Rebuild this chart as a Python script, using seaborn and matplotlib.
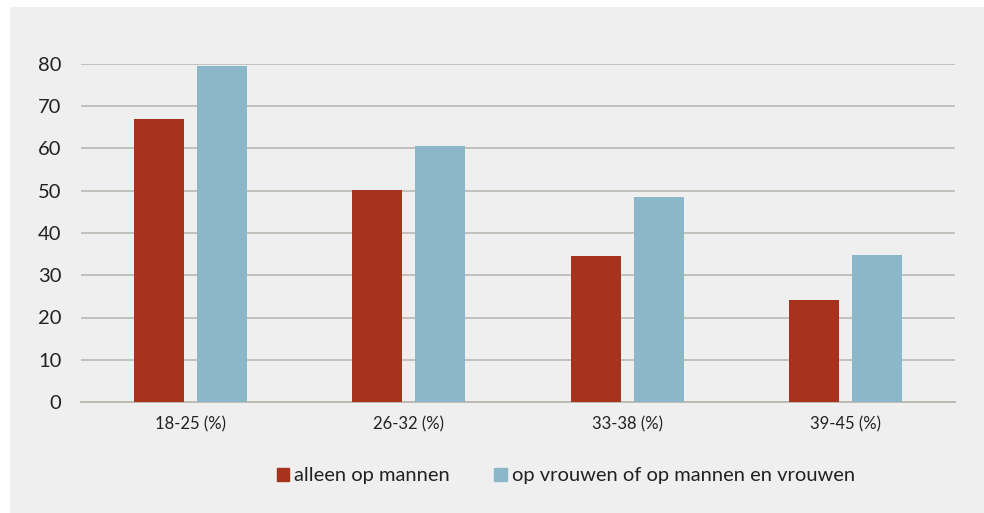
import pandas as pd
import matplotlib.pyplot as plt
import seaborn as sns
import matplotlib.patches as mpatches

# === Data ===
age_groups = ["18-25 (%)", "26-32 (%)", "33-38 (%)", "39-45 (%)"]
series_names = ["alleen op mannen", "op vrouwen of op mannen en vrouwen"]
only_men = [67.0, 50.2, 34.6, 24.1]
women_or_both = [79.5, 60.6, 48.5, 34.8]

df = pd.DataFrame({
    "group": age_groups * 2,
    "series": [series_names[0]] * 4 + [series_names[1]] * 4,
    "value": only_men + women_or_both,
})

palette = {series_names[0]: "#a5331d", series_names[1]: "#8bb7c8"}
bg = "#efefef"

sns.set_style("white")
plt.rcParams["font.family"] = ["Lato", "DejaVu Sans"]

fig = plt.figure(figsize=(9.84, 5.13), dpi=100)
fig.patch.set_facecolor("white")
# grey panel behind the chart
panel = mpatches.Rectangle((10 / 984, 0), 1, 1 - 7 / 513, transform=fig.transFigure,
                           facecolor=bg, edgecolor="none", zorder=-10)
fig.add_artist(panel)

ax = fig.add_axes([81 / 984, 1 - 402 / 513, (955 - 81) / 984, (402 - 64) / 513])
ax.set_zorder(1)
ax.patch.set_alpha(0)

sns.barplot(data=df, x="group", y="value", hue="series", palette=palette,
            order=age_groups, hue_order=series_names,
            width=0.575, gap=0.2, edgecolor="none", saturation=1,
            legend=False, ax=ax, zorder=3)

ax.set_xlim(-0.5, 3.5)
ax.set_ylim(0, 80)
ax.set_yticks(range(0, 81, 10))
ax.yaxis.grid(True, color="#c2c0ba", linewidth=1.4)
ax.set_axisbelow(True)
for s in ["top", "right", "left"]:
    ax.spines[s].set_visible(False)
ax.spines["bottom"].set_color("#bdbab3")
ax.spines["bottom"].set_linewidth(1.4)
ax.set_xlabel("")
ax.set_ylabel("")
ax.tick_params(axis="y", length=0, pad=14, labelsize=14.5, labelcolor="#222222")
ax.tick_params(axis="x", length=0, pad=10, labelsize=12, labelcolor="#222222")

handles = [mpatches.Patch(color=palette[n], label=n) for n in series_names]
fig.legend(handles=handles, loc="center", bbox_to_anchor=(566 / 984, 1 - 476 / 513),
           ncol=2, frameon=False, fontsize=14.5, handlelength=0.6, handleheight=0.6,
           handletextpad=0.25, columnspacing=2.2, labelcolor="#222222")

fig.savefig("out.png", dpi=100, facecolor=fig.get_facecolor())
